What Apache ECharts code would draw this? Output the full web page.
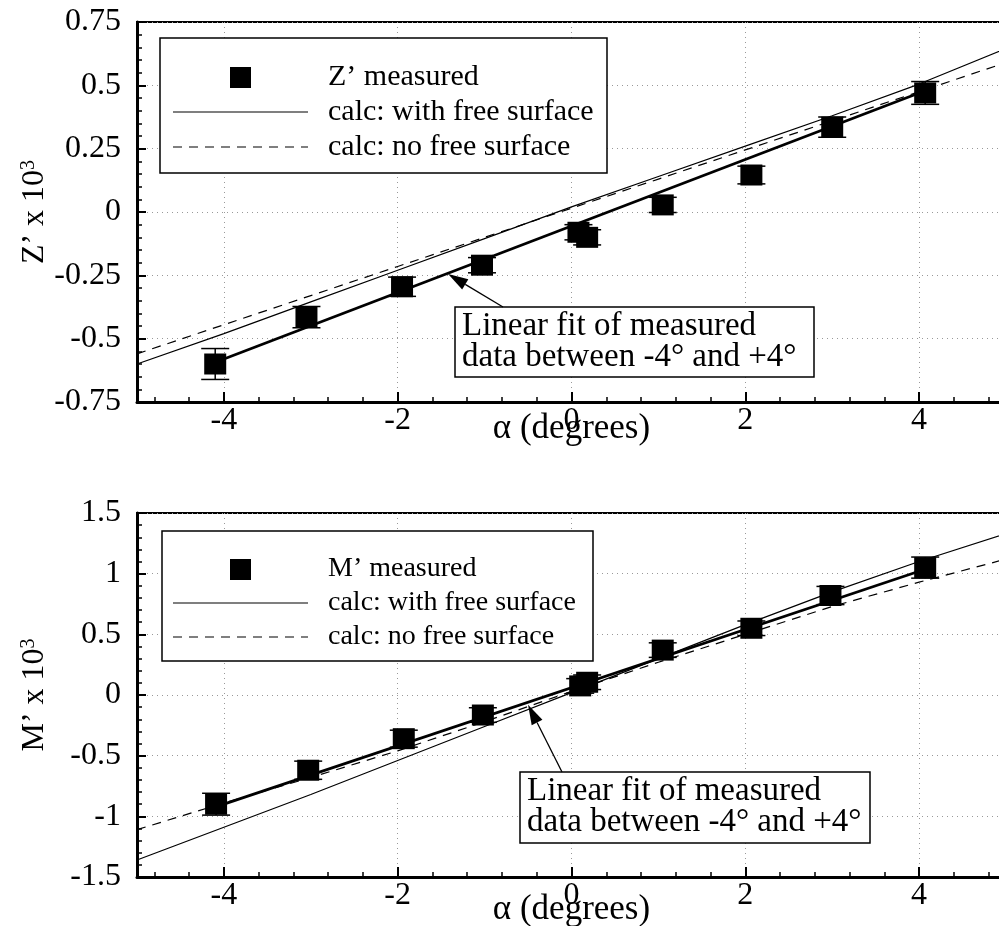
<!DOCTYPE html>
<html>
<head>
<meta charset="utf-8">
<title>Z' and M' versus alpha</title>
<script src="https://cdn.jsdelivr.net/npm/echarts@6/dist/echarts.min.js"></script>
<style>
  html, body { margin: 0; padding: 0; background: #fff; }
  #chart { width: 999px; height: 926px; }
</style>
</head>
<body>
<div id="chart"></div>
<script>
// tick positions on the alpha axis
const xMajorTicks = [-4, -2, 0, 2, 4]
const xMinorTicks = [-4.8, -4.4, -4, -3.6, -3.2, -2.8, -2.4, -2, -1.6, -1.2, -0.8, -0.4, 0,
  0.4, 0.8, 1.2, 1.6, 2, 2.4, 2.8, 3.2, 3.6, 4, 4.4, 4.8]

// Z' (top panel)
const zAlpha = [-4.1, -3.05, -1.95, -1.03, 0.08, 0.18, 1.05, 2.07, 3.0, 4.07]
const zMeas = [-0.60, -0.415, -0.295, -0.21, -0.08, -0.10, 0.028, 0.146, 0.335, 0.47]
const zErr = [0.061, 0.042, 0.038, 0.03, 0.03, 0.03, 0.03, 0.035, 0.04, 0.045]
const calcAlpha = [-5, -4, -3, -2, -1, 0, 1, 2, 3, 4, 5]
const zFree = [-0.60, -0.48, -0.355, -0.23, -0.105, 0.02, 0.14, 0.26, 0.38, 0.505, 0.645]
const zNoFree = [-0.56, -0.445, -0.33, -0.215, -0.10, 0.015, 0.13, 0.245, 0.36, 0.475, 0.59]
const fitAlpha = [-4, 4]
const zFit = [-0.58, 0.47]

// M' (bottom panel)
const mAlpha = [-4.09, -3.03, -1.93, -1.02, 0.1, 0.18, 1.05, 2.07, 2.98, 4.07]
const mMeas = [-0.90, -0.62, -0.36, -0.165, 0.075, 0.105, 0.37, 0.55, 0.82, 1.05]
const mErr = [0.09, 0.075, 0.07, 0.06, 0.06, 0.06, 0.06, 0.06, 0.075, 0.087]
const mFree = [-1.36, -1.09, -0.82, -0.54, -0.26, 0.02, 0.30, 0.58, 0.85, 1.10, 1.33]
const mNoFree = [-1.11, -0.89, -0.68, -0.46, -0.22, 0.03, 0.27, 0.50, 0.73, 0.93, 1.12]
const mFit = [-0.90, 1.02]

const serif = '"Liberation Serif", "Times New Roman", serif'
const zip = (xs, ys) => xs.map((x, i) => [x, ys[i]])
const zip3 = (xs, ys, es) => xs.map((x, i) => [x, ys[i], es[i]])

const chart = echarts.init(document.getElementById('chart'))

function dataXAxis (gridIndex) {
  return {
    type: 'value',
    gridIndex: gridIndex,
    min: -5,
    max: 5,
    position: 'bottom',
    axisLine: { show: true, onZero: false, lineStyle: { color: '#000', width: 3 } },
    axisTick: { show: true, inside: true, length: 5, customValues: xMinorTicks, lineStyle: { color: '#000', width: 1.5 } },
    axisLabel: { show: false },
    splitLine: { show: false }
  }
}

function labelXAxis (gridIndex, nameGap) {
  return {
    type: 'value',
    gridIndex: gridIndex,
    min: -5,
    max: 5,
    position: 'bottom',
    axisLine: { show: false, onZero: false },
    axisTick: { show: true, inside: true, length: 10, customValues: xMajorTicks, lineStyle: { color: '#000', width: 2 } },
    axisLabel: { customValues: xMajorTicks, margin: 3, fontSize: 32, color: '#000', fontFamily: serif },
    // 网格线为稀疏的点线
    splitLine: { show: true, lineStyle: { type: [1, 4], color: '#999', width: 1 } },
    name: 'α (degrees)',
    nameLocation: 'middle',
    nameGap: nameGap,
    nameMoveOverlap: false,
    nameTextStyle: { fontSize: 35, color: '#000', fontFamily: serif }
  }
}

function yAxis (gridIndex, min, max, interval, name) {
  return {
    type: 'value',
    gridIndex: gridIndex,
    min: min,
    max: max,
    interval: interval,
    axisLine: { show: true, onZero: false, lineStyle: { color: '#000', width: 3 } },
    axisTick: { show: true, inside: true, length: 9, lineStyle: { color: '#000', width: 2 } },
    minorTick: { show: true, splitNumber: 5, length: 5, lineStyle: { color: '#000', width: 1.5 } },
    axisLabel: { margin: 16, fontSize: 32, color: '#000', fontFamily: serif },
    splitLine: { show: true, lineStyle: { type: [1, 4], color: '#999', width: 1 } },
    name: name,
    nameLocation: 'middle',
    nameRotate: 90,
    nameGap: 86,
    nameMoveOverlap: false,
    nameTextStyle: {
      fontSize: 32,
      color: '#000',
      fontFamily: serif,
      rich: {
        sup: { fontSize: 20, fontFamily: serif, color: '#000', verticalAlign: 'top', lineHeight: 14 }
      }
    }
  }
}

// 误差棒
function renderErr (params, api) {
  const x = api.value(0)
  const y = api.value(1)
  const e = api.value(2)
  const hi = api.coord([x, y + e])
  const lo = api.coord([x, y - e])
  const hw = 14
  const st = { stroke: '#000', lineWidth: 1.5 }
  return {
    type: 'group',
    children: [
      { type: 'line', shape: { x1: hi[0], y1: hi[1], x2: lo[0], y2: lo[1] }, style: st },
      { type: 'line', shape: { x1: hi[0] - hw, y1: hi[1], x2: hi[0] + hw, y2: hi[1] }, style: st },
      { type: 'line', shape: { x1: lo[0] - hw, y1: lo[1], x2: lo[0] + hw, y2: lo[1] }, style: st }
    ]
  }
}

function panelSeries (xi, yi, meas, errs, free, noFree, fit, alpha) {
  return [
    {
      name: 'calc: with free surface',
      type: 'line',
      xAxisIndex: xi,
      yAxisIndex: yi,
      symbol: 'none',
      lineStyle: { color: '#000', width: 1.2 },
      data: zip(calcAlpha, free)
    },
    {
      name: 'calc: no free surface',
      type: 'line',
      xAxisIndex: xi,
      yAxisIndex: yi,
      symbol: 'none',
      lineStyle: { color: '#000', width: 1.2, type: [9, 7] },
      data: zip(calcAlpha, noFree)
    },
    {
      name: 'linear fit',
      type: 'line',
      xAxisIndex: xi,
      yAxisIndex: yi,
      symbol: 'none',
      lineStyle: { color: '#000', width: 2.8 },
      data: zip(fitAlpha, fit)
    },
    {
      name: 'error',
      type: 'custom',
      xAxisIndex: xi,
      yAxisIndex: yi,
      renderItem: renderErr,
      encode: { x: 0, y: 1 },
      data: zip3(alpha, meas, errs),
      z: 3
    },
    {
      name: 'measured',
      type: 'scatter',
      xAxisIndex: xi,
      yAxisIndex: yi,
      symbol: 'rect',
      symbolSize: [22, 21],
      itemStyle: { color: '#000', opacity: 1 },
      emphasis: { disabled: true },
      data: zip(alpha, meas),
      z: 4
    }
  ]
}

function legendBox (x, y, w, h, rows, label, fontSize) {
  const lineSt = { stroke: '#000', lineWidth: 1.2 }
  return [
    { type: 'rect', shape: { x: x, y: y, width: w, height: h }, style: { fill: '#fff', stroke: '#000', lineWidth: 1.5 }, z: 10 },
    { type: 'rect', shape: { x: 230, y: rows[0] - 10, width: 21, height: 21 }, style: { fill: '#000' }, z: 11 },
    { type: 'line', shape: { x1: 173, y1: rows[1], x2: 308, y2: rows[1] }, style: lineSt, z: 11 },
    { type: 'line', shape: { x1: 173, y1: rows[2], x2: 308, y2: rows[2] }, style: Object.assign({ lineDash: [9, 7] }, lineSt), z: 11 },
    { type: 'text', x: 328, y: rows[0], style: { text: label, fontSize: fontSize, fontFamily: serif, fill: '#000', verticalAlign: 'middle' }, z: 11 },
    { type: 'text', x: 328, y: rows[1], style: { text: 'calc: with free surface', fontSize: fontSize, fontFamily: serif, fill: '#000', verticalAlign: 'middle' }, z: 11 },
    { type: 'text', x: 328, y: rows[2], style: { text: 'calc: no free surface', fontSize: fontSize, fontFamily: serif, fill: '#000', verticalAlign: 'middle' }, z: 11 }
  ]
}

function noteBox (x, y, w, h) {
  return [
    { type: 'rect', shape: { x: x, y: y, width: w, height: h }, style: { fill: '#fff', stroke: '#000', lineWidth: 1.5 }, z: 10 },
    {
      type: 'text',
      x: x + 7,
      y: y + 4,
      style: {
        text: 'Linear fit of measured\ndata between -4° and +4°',
        fontSize: 33,
        fontFamily: serif,
        fill: '#000',
        lineHeight: 31
      },
      z: 11
    }
  ]
}

function arrow (tip, tail) {
  const dx = tip[0] - tail[0]
  const dy = tip[1] - tail[1]
  const len = Math.sqrt(dx * dx + dy * dy)
  const ux = dx / len
  const uy = dy / len
  const hl = 20
  const hw = 6
  const bx = tip[0] - ux * hl
  const by = tip[1] - uy * hl
  return [
    { type: 'line', shape: { x1: tail[0], y1: tail[1], x2: bx, y2: by }, style: { stroke: '#000', lineWidth: 1.3 }, z: 12 },
    {
      type: 'polygon',
      shape: { points: [tip, [bx - uy * hw, by + ux * hw], [bx + uy * hw, by - ux * hw]] },
      style: { fill: '#000' },
      z: 12
    }
  ]
}

const options = {
  backgroundColor: '#fff',
  animation: false,
  grid: [
    { left: 137, top: 22, right: -7, height: 380, outerBoundsMode: 'none', show: true, borderColor: '#000', borderWidth: 2, backgroundColor: 'transparent' },
    { left: 137, top: 513, right: -7, height: 364, outerBoundsMode: 'none', show: true, borderColor: '#000', borderWidth: 2, backgroundColor: 'transparent' }
  ],
  xAxis: [dataXAxis(0), labelXAxis(0, 9), dataXAxis(1), labelXAxis(1, 15)],
  yAxis: [
    yAxis(0, -0.75, 0.75, 0.25, 'Z’ x 10{sup|3}'),
    yAxis(1, -1.5, 1.5, 0.5, 'M’ x 10{sup|3}')
  ],
  series: [
    ...panelSeries(0, 0, zMeas, zErr, zFree, zNoFree, zFit, zAlpha),
    ...panelSeries(2, 1, mMeas, mErr, mFree, mNoFree, mFit, mAlpha)
  ]
}
chart.setOption(options)

// 注释箭头指向拟合线
const tipTop = chart.convertToPixel({ xAxisIndex: 0, yAxisIndex: 0 }, [-1.42, -0.245])
const tipBot = chart.convertToPixel({ xAxisIndex: 2, yAxisIndex: 1 }, [-0.5, -0.08])

chart.setOption({
  graphic: [
    ...legendBox(160, 38, 447, 135, [77, 112, 147], 'Z’ measured', 30),
    ...legendBox(162, 531, 431, 130, [569, 603, 637], 'M’ measured', 28),
    ...noteBox(455, 307, 359, 70),
    ...noteBox(520, 772, 350, 71),
    ...arrow(tipTop, [503, 307]),
    ...arrow(tipBot, [562, 772])
  ]
})
</script>
</body>
</html>
